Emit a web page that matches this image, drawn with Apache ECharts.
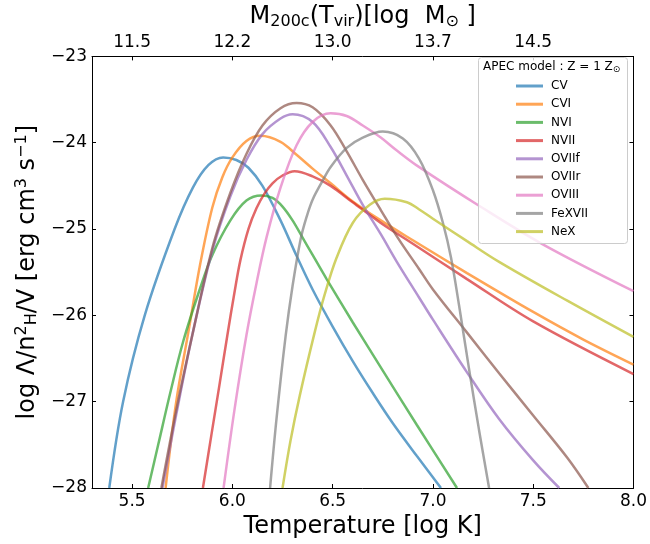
<!DOCTYPE html>
<html>
<head>
<meta charset="utf-8">
<script src="https://cdn.jsdelivr.net/npm/echarts@6/dist/echarts.min.js"></script>
<style>html,body{margin:0;padding:0;background:#fff}#c{width:650px;height:544px}</style>
</head>
<body>
<div id="c"></div>
<script>
// ---- data (temperature [log K], log emissivity) ----
const CV = [[5.386,-28],[5.455,-27.0],[5.563,-26.0],[5.712,-25.0],[5.803,-24.52],[5.88,-24.26],[5.954,-24.17],[6.02,-24.20],[6.08,-24.29],[6.15,-24.50],[6.24,-24.90],[6.32,-25.31],[6.40,-25.70],[6.50,-26.13],[6.60,-26.53],[6.70,-26.90],[6.80,-27.25],[6.92,-27.63],[7.04,-28]];
const CVI = [[5.667,-28],[5.72,-27.0],[5.78,-26.2],[5.84,-25.4],[5.90,-24.75],[5.95,-24.40],[6.00,-24.17],[6.07,-23.98],[6.14,-23.92],[6.24,-23.99],[6.32,-24.14],[6.40,-24.30],[6.49,-24.47],[6.60,-24.68],[6.74,-24.90],[6.90,-25.13],[7.17,-25.51],[7.50,-25.96],[7.75,-26.28],[8.0,-26.57]];
const NVI = [[5.58,-28],[5.63,-27.5],[5.69,-26.9],[5.755,-26.3],[5.84,-25.68],[5.90,-25.30],[5.99,-24.90],[6.07,-24.67],[6.145,-24.61],[6.20,-24.64],[6.25,-24.74],[6.30,-24.90],[6.35,-25.10],[6.40,-25.30],[6.47,-25.58],[6.60,-26.08],[6.75,-26.64],[6.92,-27.27],[7.12,-28]];
const NVII = [[5.853,-28],[5.895,-27.39],[5.936,-26.80],[5.975,-26.23],[6.01,-25.74],[6.04,-25.36],[6.08,-25.00],[6.12,-24.76],[6.16,-24.59],[6.20,-24.47],[6.25,-24.38],[6.31,-24.33],[6.40,-24.39],[6.49,-24.50],[6.60,-24.69],[6.74,-24.93],[6.90,-25.17],[7.17,-25.58],[7.50,-26.07],[8.0,-26.68]];
const OVIIf = [[5.651,-28],[5.72,-27.15],[5.80,-26.23],[5.90,-25.25],[5.99,-24.62],[6.07,-24.20],[6.15,-23.90],[6.24,-23.72],[6.30,-23.67],[6.40,-23.76],[6.49,-24.05],[6.57,-24.38],[6.65,-24.72],[6.74,-25.06],[6.82,-25.38],[6.93,-25.79],[7.0,-26.05],[7.17,-26.66],[7.33,-27.20],[7.50,-27.68],[7.63,-28]];
const OVIIr = [[5.646,-28],[5.72,-27.1],[5.80,-26.23],[5.90,-25.22],[5.99,-24.58],[6.07,-24.13],[6.15,-23.80],[6.24,-23.60],[6.32,-23.54],[6.40,-23.59],[6.49,-23.80],[6.57,-24.10],[6.65,-24.43],[6.74,-24.78],[6.83,-25.12],[6.93,-25.46],[7.0,-25.70],[7.17,-26.20],[7.33,-26.67],[7.50,-27.16],[7.67,-27.65],[7.775,-28]];
const OVIII = [[5.956,-28],[6.01,-27.1],[6.07,-26.23],[6.12,-25.63],[6.17,-25.10],[6.24,-24.52],[6.32,-24.03],[6.40,-23.76],[6.49,-23.66],[6.57,-23.69],[6.65,-23.80],[6.74,-23.94],[6.82,-24.09],[6.93,-24.28],[7.23,-24.73],[7.55,-25.18],[8.0,-25.72]];
const FeXVII = [[6.188,-28],[6.22,-27.2],[6.266,-26.23],[6.30,-25.66],[6.34,-25.12],[6.37,-24.86],[6.40,-24.66],[6.45,-24.44],[6.49,-24.28],[6.57,-24.06],[6.65,-23.94],[6.75,-23.87],[6.85,-23.95],[6.93,-24.18],[7.0,-24.55],[7.05,-24.93],[7.09,-25.33],[7.13,-25.88],[7.18,-26.62],[7.23,-27.33],[7.28,-28]];
const NeX = [[6.25,-28],[6.29,-27.45],[6.336,-26.93],[6.41,-26.2],[6.46,-25.76],[6.52,-25.33],[6.60,-24.93],[6.685,-24.72],[6.76,-24.65],[6.87,-24.69],[6.93,-24.77],[7.0,-24.88],[7.17,-25.14],[7.33,-25.38],[7.67,-25.83],[8.0,-26.25]];

const seriesNames = ['CV','CVI','NVI','NVII','OVIIf','OVIIr','OVIII','FeXVII','NeX'];
const seriesData = [CV, CVI, NVI, NVII, OVIIf, OVIIr, OVIII, FeXVII, NeX];
const colors = ['rgba(31,119,180,0.7)','rgba(255,127,14,0.7)','rgba(44,160,44,0.7)','rgba(214,39,40,0.7)','rgba(148,103,189,0.7)','rgba(140,86,75,0.7)','rgba(227,119,194,0.7)','rgba(127,127,127,0.7)','rgba(188,189,34,0.7)'];

const xMin = 5.3, xMax = 8.0, yMin = -28, yMax = -23;
const topTickLabels = {'5.5':'11.5','6.0':'12.2','6.5':'13.0','7.0':'13.7','7.5':'14.5'};

const FONT = 'DejaVu Sans';
const chart = echarts.init(document.getElementById('c'), null, {renderer:'canvas'});

const tickStyle = {show:true, inside:true, length:4, lineStyle:{color:'#000', width:1}};
const lineAx = {show:true, onZero:false, lineStyle:{color:'#000', width:1}};

const series = seriesNames.map((n,i)=>({
  name:n, type:'line', data:seriesData[i], xAxisIndex:0, yAxisIndex:0,
  showSymbol:false, symbol:'none', smooth:0.35,
  lineStyle:{color:colors[i], width:2.5},
  itemStyle:{color:colors[i]},
  emphasis:{disabled:true}, z:2
}));

chart.setOption({
  animation:false,
  backgroundColor:'#fff',
  textStyle:{fontFamily:FONT},
  grid:{left:92, right:16, top:51, bottom:53, containLabel:false},
  xAxis:[
    {type:'value', position:'bottom', min:xMin, max:xMax,
     axisLine:lineAx, axisTick:tickStyle, splitLine:{show:false},
     axisLabel:{show:true, showMinLabel:false, margin:5, color:'#000', fontSize:17, fontFamily:FONT,
       formatter:v=>v.toFixed(1)},
     name:'Temperature [log K]', nameLocation:'middle', nameGap:27,
     nameTextStyle:{fontSize:24, color:'#000', fontFamily:FONT}},
    {type:'value', position:'top', min:xMin, max:xMax,
     axisLine:lineAx, axisTick:tickStyle, splitLine:{show:false},
     axisLabel:{show:true, showMinLabel:false, margin:5, color:'#000', fontSize:17, fontFamily:FONT,
       formatter:v=>topTickLabels[v.toFixed(1)] || ''},
     name:'M{s|200c}(T{s|vir})[log  M{s|⊙} ]', nameLocation:'middle', nameGap:22,
     nameTextStyle:{fontSize:24, color:'#000', fontFamily:FONT,
       rich:{s:{fontSize:16, fontFamily:FONT, color:'#000', padding:[9,0,0,0]}}}}
  ],
  yAxis:[
    {type:'value', position:'left', min:yMin, max:yMax, interval:1,
     axisLine:lineAx, axisTick:tickStyle, splitLine:{show:false},
     axisLabel:{show:true, margin:5, color:'#000', fontSize:17, fontFamily:FONT,
       formatter:v=>String(v).replace('-','\u2212')},
     name:'log Λ/n{sup|2}{sub|H}/V [erg cm{sup|3} s{sup|−1}]', nameLocation:'middle', nameGap:48, nameRotate:90,
     nameTextStyle:{fontSize:24, color:'#000', fontFamily:FONT,
       rich:{
         sup:{fontSize:16, fontFamily:FONT, color:'#000', padding:[0,0,12,0]},
         sub:{fontSize:16, fontFamily:FONT, color:'#000', padding:[9,0,0,0]}
       }}},
    {type:'value', position:'right', min:yMin, max:yMax, interval:1,
     axisLine:lineAx, axisTick:tickStyle, splitLine:{show:false},
     axisLabel:{show:false}}
  ],
  legend:{
    show:true, orient:'vertical', left:516, top:79, padding:0,
    icon:'rect', itemWidth:27, itemHeight:3, itemGap:4.2, z:20,
    data:seriesNames,
    textStyle:{fontSize:12, lineHeight:14, color:'#000', fontFamily:FONT, padding:[0,0,0,3]},
    selectedMode:false
  },
  graphic:[
    {type:'rect', left:478, top:57, z:15, shape:{width:149, height:186, r:3},
     style:{fill:'rgba(255,255,255,0.8)', stroke:'#cccccc', lineWidth:1}},
    {type:'text', left:483, top:61, z:16,
     style:{text:'APEC model : Z = 1 Z{s|⊙}', fontSize:12, fontFamily:FONT, fill:'#000',
       rich:{s:{fontSize:9, fontFamily:FONT, padding:[5,0,0,0]}}}}
  ],
  series:series
});
</script>
</body>
</html>
